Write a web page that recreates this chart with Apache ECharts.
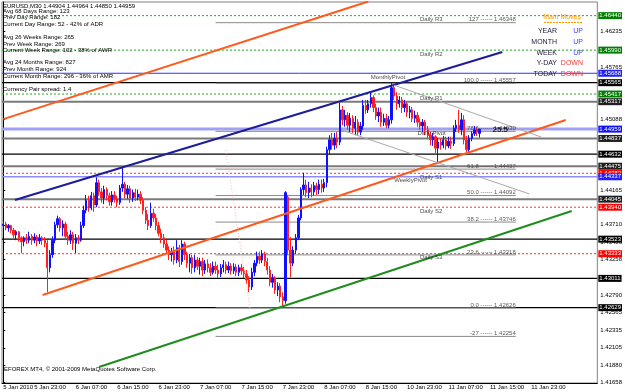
<!DOCTYPE html>
<html>
<head>
<meta charset="utf-8">
<title>EURUSD,M30</title>
<script src="https://cdn.jsdelivr.net/npm/echarts@6/dist/echarts.min.js"></script>
<style>html,body{margin:0;padding:0;background:#fff}#chart{width:625px;height:392px}</style>
</head>
<body>
<div id="chart"></div>
<script>
// M30 candles, [open, high, low, close] in pips (price * 10000)
var ohlc = [
[14370,14376,14367,14372],[14372,14375,14364,14367],[14367,14372,14362,14370],[14370,14371,14360,14364],
[14364,14367,14354,14358],[14358,14364,14351,14362],[14362,14363,14349,14354],[14354,14356,14334,14349],
[14349,14356,14343,14354],[14354,14359,14346,14351],[14351,14362,14347,14356],[14356,14359,14345,14351],
[14351,14360,14347,14355],[14355,14358,14343,14350],[14350,14359,14346,14354],[14354,14356,14345,14351],
[14351,14355,14342,14347],[14347,14351,14283,14315],[14315,14338,14309,14332],[14332,14356,14328,14351],
[14351,14375,14347,14371],[14371,14383,14367,14379],[14379,14381,14362,14367],[14367,14377,14356,14372],
[14372,14375,14351,14356],[14356,14362,14345,14351],[14351,14364,14346,14358],[14358,14362,14338,14347],
[14347,14359,14334,14354],[14354,14358,14346,14351],[14351,14375,14349,14370],[14370,14396,14367,14390],
[14390,14410,14386,14403],[14403,14409,14388,14393],[14393,14414,14390,14409],[14409,14413,14388,14397],
[14397,14433,14394,14426],[14426,14430,14409,14414],[14414,14419,14400,14406],[14406,14422,14398,14417],
[14417,14420,14403,14409],[14409,14413,14396,14401],[14401,14415,14396,14410],[14410,14415,14400,14405],
[14405,14409,14394,14400],[14400,14423,14397,14419],[14419,14447,14414,14424],[14424,14427,14406,14411],
[14411,14423,14405,14418],[14418,14422,14400,14406],[14406,14417,14401,14413],[14413,14418,14402,14407],
[14407,14417,14403,14411],[14411,14415,14398,14403],[14403,14407,14385,14390],[14390,14394,14372,14377],
[14377,14385,14364,14370],[14370,14400,14367,14386],[14386,14392,14375,14380],[14380,14385,14364,14370],
[14370,14375,14356,14360],[14360,14366,14347,14354],[14354,14359,14341,14346],[14346,14351,14333,14338],
[14338,14343,14325,14332],[14332,14341,14323,14336],[14336,14343,14319,14325],[14325,14351,14321,14341],
[14341,14345,14316,14323],[14323,14351,14319,14346],[14346,14349,14325,14332],[14332,14336,14315,14321],
[14321,14333,14309,14328],[14328,14332,14307,14315],[14315,14332,14309,14325],[14325,14329,14312,14317],
[14317,14328,14306,14323],[14323,14328,14304,14312],[14312,14325,14307,14320],[14320,14326,14309,14315],
[14315,14321,14304,14309],[14309,14323,14306,14317],[14317,14323,14307,14312],[14312,14319,14302,14307],
[14307,14320,14303,14315],[14315,14325,14309,14319],[14319,14323,14307,14312],[14312,14323,14308,14317],
[14317,14321,14306,14311],[14311,14321,14307,14316],[14316,14320,14304,14309],[14309,14319,14304,14315],
[14315,14320,14306,14311],[14311,14316,14302,14307],[14307,14312,14294,14299],[14299,14304,14283,14290],
[14290,14315,14286,14309],[14309,14325,14304,14321],[14321,14336,14317,14330],[14330,14336,14320,14325],
[14325,14338,14321,14333],[14333,14336,14317,14323],[14323,14328,14306,14312],[14312,14317,14291,14296],
[14296,14307,14289,14302],[14302,14304,14281,14286],[14286,14296,14278,14291],[14291,14295,14270,14277],
[14277,14283,14263,14272],[14272,14415,14268,14413],[14407,14410,14332,14338],[14338,14355,14302,14321],
[14321,14343,14317,14338],[14338,14359,14333,14354],[14354,14384,14351,14380],[14380,14420,14377,14417],
[14417,14439,14410,14423],[14423,14430,14407,14413],[14413,14427,14406,14419],[14419,14424,14407,14414],
[14414,14427,14409,14422],[14422,14426,14410,14417],[14417,14430,14411,14424],[14424,14430,14413,14419],
[14419,14431,14414,14426],[14426,14473,14420,14469],[14469,14488,14462,14482],[14482,14491,14469,14475],
[14475,14491,14469,14484],[14484,14492,14471,14479],[14479,14530,14475,14521],[14521,14526,14501,14508],
[14508,14521,14499,14514],[14514,14518,14495,14501],[14501,14517,14492,14510],[14510,14514,14491,14497],
[14497,14513,14488,14505],[14505,14509,14488,14492],[14492,14505,14488,14500],[14500,14534,14495,14527],
[14527,14534,14516,14521],[14521,14534,14517,14529],[14529,14543,14524,14537],[14537,14540,14518,14524],
[14524,14529,14508,14513],[14513,14524,14505,14518],[14518,14524,14499,14505],[14505,14516,14500,14510],
[14510,14516,14497,14501],[14501,14513,14497,14508],[14508,14556,14503,14550],[14550,14554,14534,14539],
[14539,14544,14521,14529],[14529,14539,14524,14534],[14534,14538,14517,14524],[14524,14534,14518,14529],
[14529,14531,14512,14518],[14518,14526,14510,14521],[14521,14525,14505,14510],[14510,14520,14504,14514],
[14514,14518,14499,14505],[14505,14510,14495,14500],[14500,14509,14492,14505],[14505,14508,14488,14495],
[14495,14500,14484,14488],[14488,14492,14475,14482],[14482,14491,14474,14486],[14486,14488,14462,14471],
[14471,14484,14452,14479],[14479,14484,14469,14475],[14475,14487,14471,14482],[14482,14486,14469,14474],
[14474,14486,14471,14480],[14480,14486,14470,14477],[14477,14501,14474,14497],[14497,14508,14492,14501],
[14501,14521,14491,14495],[14495,14517,14488,14508],[14508,14514,14476,14482],[14482,14487,14466,14469],
[14469,14488,14465,14484],[14484,14493,14480,14490],[14490,14500,14487,14495],[14495,14498,14487,14492],
[14490.4,14496.4,14485.0,14495.9]
];

// bar slots on the time scale (includes the empty chart shift on the right)
var barSlots = 230;
var timeTickBars = [0, 12, 28, 44, 60, 76, 92, 108, 124, 140, 156, 172, 188, 204];
var timeLabels = ['5 Jan 2010', '5 Jan 23:00', '6 Jan 07:00', '6 Jan 15:00', '6 Jan 23:00', '7 Jan 07:00',
  '7 Jan 15:00', '7 Jan 23:00', '8 Jan 07:00', '8 Jan 15:00', '10 Jan 23:00', '11 Jan 07:00',
  '11 Jan 15:00', '11 Jan 23:00'];

// plain price scale labels
var priceTicks = [1.46235, 1.45765, 1.45088, 1.44165, 1.43710, 1.43486, 1.43258, 1.42790, 1.42565,
  1.42335, 1.42105, 1.41880, 1.41658];
var priceMax = 1.466179, priceMin = 1.4164585;

// horizontal levels: R/S = daily pivots, M/W/D = monthly/weekly/daily pivot, K = black S/R, G = grey S/R
var levelPrices = [1.46440, 1.45990, 1.45688, 1.45565, 1.45417, 1.45317, 1.44959, 1.44837, 1.44632,
  1.44475, 1.44383, 1.44337, 1.44045, 1.43940, 1.43523, 1.43333, 1.43011, 1.42629];
var levelTypes = ['R', 'R', 'M', 'K', 'R', 'G', 'D', 'G', 'K', 'G', 'S', 'W', 'G', 'S', 'K', 'S', 'K', 'K'];
var levelNames = ['Daily R3', 'Daily R2', 'MonthlyPivot', '', 'Daily R1', '', 'Daily Pivot', '', '',
  '', 'Daily S1', 'WeeklyPivot', '', 'Daily S2', '', 'Daily S3', '', ''];
var levelNameBar = [161, 161, 142, 0, 161, 0, 160, 0, 0, 0, 161, 151, 0, 161, 0, 161, 0, 0];

// fibonacci retracement
var fibNames = ['127', '100.0', '78.6', '61.8', '50.0', '38.2', '23.6', '0.0', '-27'];
var fibPrices = [1.46348, 1.45557, 1.44930, 1.44437, 1.44092, 1.43746, 1.43318, 1.42626, 1.42254];
var fibFromBar = 82, fibToBar = 198;

// trend lines, [bar, price] end points
var upperChannel = [[0, 1.45090], [141, 1.46625]];
var lowerChannel = [[15.2, 1.42794], [217.3, 1.45078]];
var blueTrend = [[4.5, 1.44034], [192.8, 1.45965]];
var greenTrend = [[37, 1.41855], [219.6, 1.43890]];
var greyUpper = [[150.8, 1.45535], [207.8, 1.44856]];
var greyLower = [[130.6, 1.44948], [203.3, 1.44113]];
var pinkDotted = [[85.9, 1.44687], [95.4, 1.42599]];

var infoLines = ['EURUSD,M30 1.44904 1.44964 1.44850 1.44959', 'Avg 68 Days Range: 123',
  'Prev Day Range: 182', 'Current Day Range: 52 - 42% of ADR', 'Avg 26 Weeks Range: 265',
  'Prev Week Range: 269', 'Current Week Range: 102 - 38% of AWR', 'Avg 24 Months Range: 827',
  'Prev Month Range: 924', 'Current Month Range: 296 - 36% of AMR', 'Currency Pair spread: 1.4'];
var movePeriods = ['YEAR', 'MONTH', 'WEEK', 'Y-DAY', 'TODAY'];
var moveDirs = ['UP', 'UP', 'UP', 'DOWN', 'DOWN'];

var FONT = '"Liberation Sans", Arial, sans-serif';
var chart = echarts.init(document.getElementById('chart'));

var catLabels = [];
for (var i = 0; i < barSlots; i++) catLabels.push('');
timeTickBars.forEach(function (b, k) { catLabels[b] = timeLabels[k]; });

var candles = ohlc.map(function (r) {
  return [r[0] / 1e4, r[3] / 1e4, r[2] / 1e4, r[1] / 1e4];
});

var lvlStyle = {
  R: { color: '#22aa22', width: 1, type: [2, 2], box: '#008000' },
  S: { color: '#ff3030', width: 1, type: [2, 2], box: '#ff0000' },
  M: { color: '#3030ff', width: 1, type: 'solid', box: '#2020ff' },
  W: { color: '#8c8cff', width: 1.5, type: 'solid', box: '#2020ff' },
  D: { color: '#a0a0f4', width: 3, type: 'solid', box: '#1010ff' },
  K: { color: '#000000', width: 1.2, type: 'solid', box: '#000000' },
  G: { color: '#7a7a7a', width: 2, type: 'solid', box: '#202020' }
};

var series = [{
  type: 'candlestick', data: candles, barWidth: 1.8, z: 3,
  itemStyle: { color: '#1010ff', color0: '#ff2020', borderColor: '#1010ff', borderColor0: '#ff2020', borderWidth: 1 }
}];

// horizontal levels with their price boxes on the scale
levelPrices.forEach(function (p, k) {
  var s = lvlStyle[levelTypes[k]];
  series.push({
    type: 'line', xAxisIndex: 1, data: [[-0.5, p], [barSlots - 0.5, p]], symbol: 'none', silent: true, z: 2,
    lineStyle: { color: s.color, width: s.width, type: s.type },
    endLabel: {
      show: true, distance: 1, formatter: p.toFixed(5), backgroundColor: s.box, color: '#fff',
      fontSize: 6, fontFamily: FONT, padding: [1, 1, 0, 1]
    }
  });
});

fibPrices.forEach(function (p) {
  series.push({
    type: 'line', xAxisIndex: 1, data: [[fibFromBar, p], [fibToBar, p]], symbol: 'none', silent: true,
    lineStyle: { color: '#8a8a8a', width: 1 }, z: 2
  });
});

function trend(data, color, width, type) {
  return {
    type: 'line', xAxisIndex: 1, data: data, symbol: 'none', silent: true,
    lineStyle: { color: color, width: width, type: type || 'solid' }, z: 4
  };
}
series.push(trend(upperChannel, '#ff5a1e', 2));
series.push(trend(lowerChannel, '#ff5a1e', 2));
series.push(trend(blueTrend, '#1c1c9c', 2));
series.push(trend(greenTrend, '#1e8c1e', 2));
series.push(trend(greyUpper, '#a8a8a8', 1));
series.push(trend(greyLower, '#a8a8a8', 1));
series.push(trend(pinkDotted, '#ffb0b0', 1, [1, 2]));

// text objects on the chart
var notes = [];
levelNames.forEach(function (n, k) {
  if (!n) return;
  notes.push({
    value: [levelNameBar[k], levelPrices[k]],
    label: { formatter: n, align: 'left', verticalAlign: 'top', offset: [0, 1], color: '#202020' }
  });
});
fibPrices.forEach(function (p, k) {
  notes.push({
    value: [fibToBar, p],
    label: { formatter: fibNames[k] + ' ------ ' + p.toFixed(5), align: 'right', verticalAlign: 'bottom', color: '#303030' }
  });
});
notes.push({
  value: [189, 1.44946],
  label: { formatter: '25.5', align: 'left', verticalAlign: 'middle', fontSize: 8, fontWeight: 'bold', color: '#000' }
});

series.push({
  type: 'scatter', xAxisIndex: 1, symbolSize: 1, silent: true, z: 6,
  itemStyle: { color: 'rgba(0,0,0,0)' },
  label: { show: true, position: 'inside', fontSize: 6, fontFamily: FONT },
  data: notes
});

var graphics = [];
var infoY = [6, 11.5, 17.5, 24, 37, 44, 50.3, 62.7, 69.3, 76, 89];
infoLines.forEach(function (t, k) {
  graphics.push({ type: 'text', x: 3, y: infoY[k], z: 10,
    style: { text: t, font: '6px ' + FONT, fill: '#000', verticalAlign: 'middle' } });
});
graphics.push({ type: 'text', x: 581, y: 17, z: 10,
  style: { text: 'Main Moves', font: '7px ' + FONT, fill: '#ff9900', align: 'right', verticalAlign: 'middle' } });
graphics.push({ type: 'line', z: 10, shape: { x1: 544, y1: 22.5, x2: 582, y2: 22.5 },
  style: { stroke: '#ff9900', lineWidth: 1, lineDash: [2, 1] } });
var moveY = [30.7, 42, 52.7, 63.3, 74];
movePeriods.forEach(function (t, k) {
  graphics.push({ type: 'text', x: 557, y: moveY[k], z: 10,
    style: { text: t, font: '7px ' + FONT, fill: '#202040', align: 'right', verticalAlign: 'middle' } });
  graphics.push({ type: 'text', x: 583, y: moveY[k], z: 10,
    style: { text: moveDirs[k], font: '7px ' + FONT, fill: moveDirs[k] === 'UP' ? '#3a3aff' : '#ff3030', align: 'right', verticalAlign: 'middle' } });
});
graphics.push({ type: 'text', x: 4, y: 369, z: 10,
  style: { text: 'EFOREX MT4, \u00a9 2001-2009 MetaQuotes Software Corp.', font: '6px ' + FONT, fill: '#000', verticalAlign: 'middle' } });

var option = {
  animation: false,
  backgroundColor: '#fff',
  grid: { left: 2, right: 21, top: 2, bottom: 9, show: true, borderColor: '#808080', borderWidth: 1 },
  xAxis: [{
    type: 'category', data: catLabels, boundaryGap: true,
    axisLine: { lineStyle: { color: '#000' } },
    axisTick: { length: 2, lineStyle: { color: '#000' }, interval: function (i, v) { return v !== ''; } },
    axisLabel: { interval: function (i, v) { return v !== ''; }, fontSize: 6, fontFamily: FONT, color: '#000', align: 'left', margin: 1 },
    splitLine: { show: false }
  }, {
    type: 'value', min: -0.5, max: barSlots - 0.5, show: false
  }],
  yAxis: {
    type: 'value', position: 'right', min: priceMin, max: priceMax, scale: true,
    splitLine: { show: false },
    axisLine: { show: true, lineStyle: { color: '#000' } },
    axisTick: { show: true, length: 2, customValues: priceTicks, lineStyle: { color: '#000' } },
    axisLabel: { customValues: priceTicks, fontSize: 6, fontFamily: FONT, color: '#000', margin: 3,
      formatter: function (v) { return v.toFixed(5); } }
  },
  series: series,
  graphic: graphics
};
chart.setOption(option);
</script>
</body>
</html>
